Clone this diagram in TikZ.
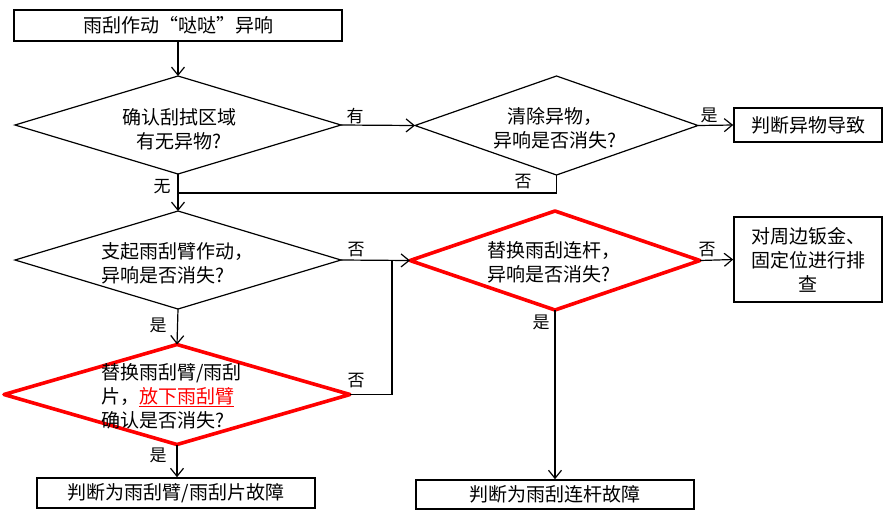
\documentclass[tikz,border=0pt]{standalone}
\usepackage{fontspec}
\newfontfamily\cjk{Noto Sans CJK SC}
\usetikzlibrary{arrows.meta,calc}
\definecolor{flowred}{RGB}{255,0,0}
\tikzset{
  boxnode/.style={draw, line width=1.6pt, inner sep=0pt, align=center,
    font=\cjk\fontsize{19}{24}\selectfont},
  dtext/.style={inner sep=0pt, font=\cjk\fontsize{19}{24}\selectfont},
  lbl/.style={inner sep=0pt, font=\cjk\fontsize{17}{17}\selectfont},
  conn/.style={line width=1.2pt, -{Straight Barb[length=8pt,width=13pt,line width=1.2pt]}},
  plainline/.style={line width=1.2pt},
  blackdiam/.style={draw, line width=1.2pt, line join=miter},
  reddiam/.style={draw=flowred, line width=3.6pt, line join=round},
}
\newcommand\flowdiam[6]{%
  \coordinate (#1) at (#2,#3);
  \coordinate (#1n) at ({#2},{#3-#5});
  \coordinate (#1s) at ({#2},{#3+#5});
  \coordinate (#1e) at ({#2+#4},{#3});
  \coordinate (#1w) at ({#2-#4},{#3});
  \draw[#6] (#1n) -- (#1e) -- (#1s) -- (#1w) -- cycle;}
\begin{document}
\begin{tikzpicture}[x=1pt,y=-1pt]
\useasboundingbox[fill=white] (0,0) rectangle (885,512);

% boxes
\node[boxnode, minimum width=328pt, minimum height=31pt] (top) at (178,25.5) {雨刮作动“哒哒”异响};
\node[boxnode, minimum width=148pt, minimum height=34pt] (r1) at (808,125) {判断异物导致};
\node[boxnode, minimum width=148pt, minimum height=85pt, text width=128pt] (r2) at (808,259.5) {对周边钣金、\\固定位进行排\\查};
\node[boxnode, minimum width=278pt, minimum height=30pt] (bl) at (176,493) {判断为雨刮臂/雨刮片故障};
\node[boxnode, minimum width=278pt, minimum height=29pt] (br) at (555,494.5) {判断为雨刮连杆故障};

% diamonds
\flowdiam{d1}{178}{125}{163}{49}{blackdiam}
\flowdiam{d2}{556.5}{125.5}{141.5}{49.5}{blackdiam}
\flowdiam{d3}{178}{260}{163}{49}{blackdiam}
\flowdiam{d4}{555}{260.5}{145}{49.5}{reddiam}
\flowdiam{d5}{177}{394.5}{173}{50}{reddiam}

% diamond texts
\node[dtext, align=center] (t1) at (179,129.5) {确认刮拭区域\\有无异物?};
\node[dtext, align=center] (t2) at (555,128.5) {清除异物，\\异响是否消失?};
\node[dtext, align=left, anchor=west] (t3) at (101,263.5) {支起雨刮臂作动，\\异响是否消失?};
\node[dtext, align=left, anchor=west] (t4) at (487,262.5) {替换雨刮连杆，\\异响是否消失?};
\node[dtext, align=left, anchor=west] (t5) at (101,396.5) {替换雨刮臂/雨刮\\片，\textcolor{flowred}{\underline{放下雨刮臂}}\\确认是否消失?};

% junctions
\coordinate (j) at (178,193);
\coordinate (k) at (392,260);

% connectors
\draw[conn] (top.south) -- (d1n);
\draw[conn] (d1e) -- (d2w);
\draw[conn] (d2e) -- (r1.west);
\draw[plainline] (d2s) |- (j);
\draw[conn] (d1s) -- (d3n);
\draw[conn] (d3e) -- (d4w);
\draw[plainline] (d5e) -| (k);
\draw[conn] (d3s) -- (d5n);
\draw[conn] (d5s) -- (d5s |- bl.north);
\draw[conn] (d4e) -- (r2.west);
\draw[conn] (d4s) -- (d4s |- br.north);

% labels
\node[lbl] (l1) at (355,116) {有};
\node[lbl] (l2) at (162,187) {无};
\node[lbl] (l3) at (709,115) {是};
\node[lbl] (l4) at (523,182) {否};
\node[lbl] (l5) at (356,250) {否};
\node[lbl] (l6) at (356,381) {否};
\node[lbl] (l7) at (158,325) {是};
\node[lbl] (l8) at (158,455) {是};
\node[lbl] (l9) at (707,250) {否};
\node[lbl] (l10) at (541,322) {是};
\end{tikzpicture}
\end{document}
